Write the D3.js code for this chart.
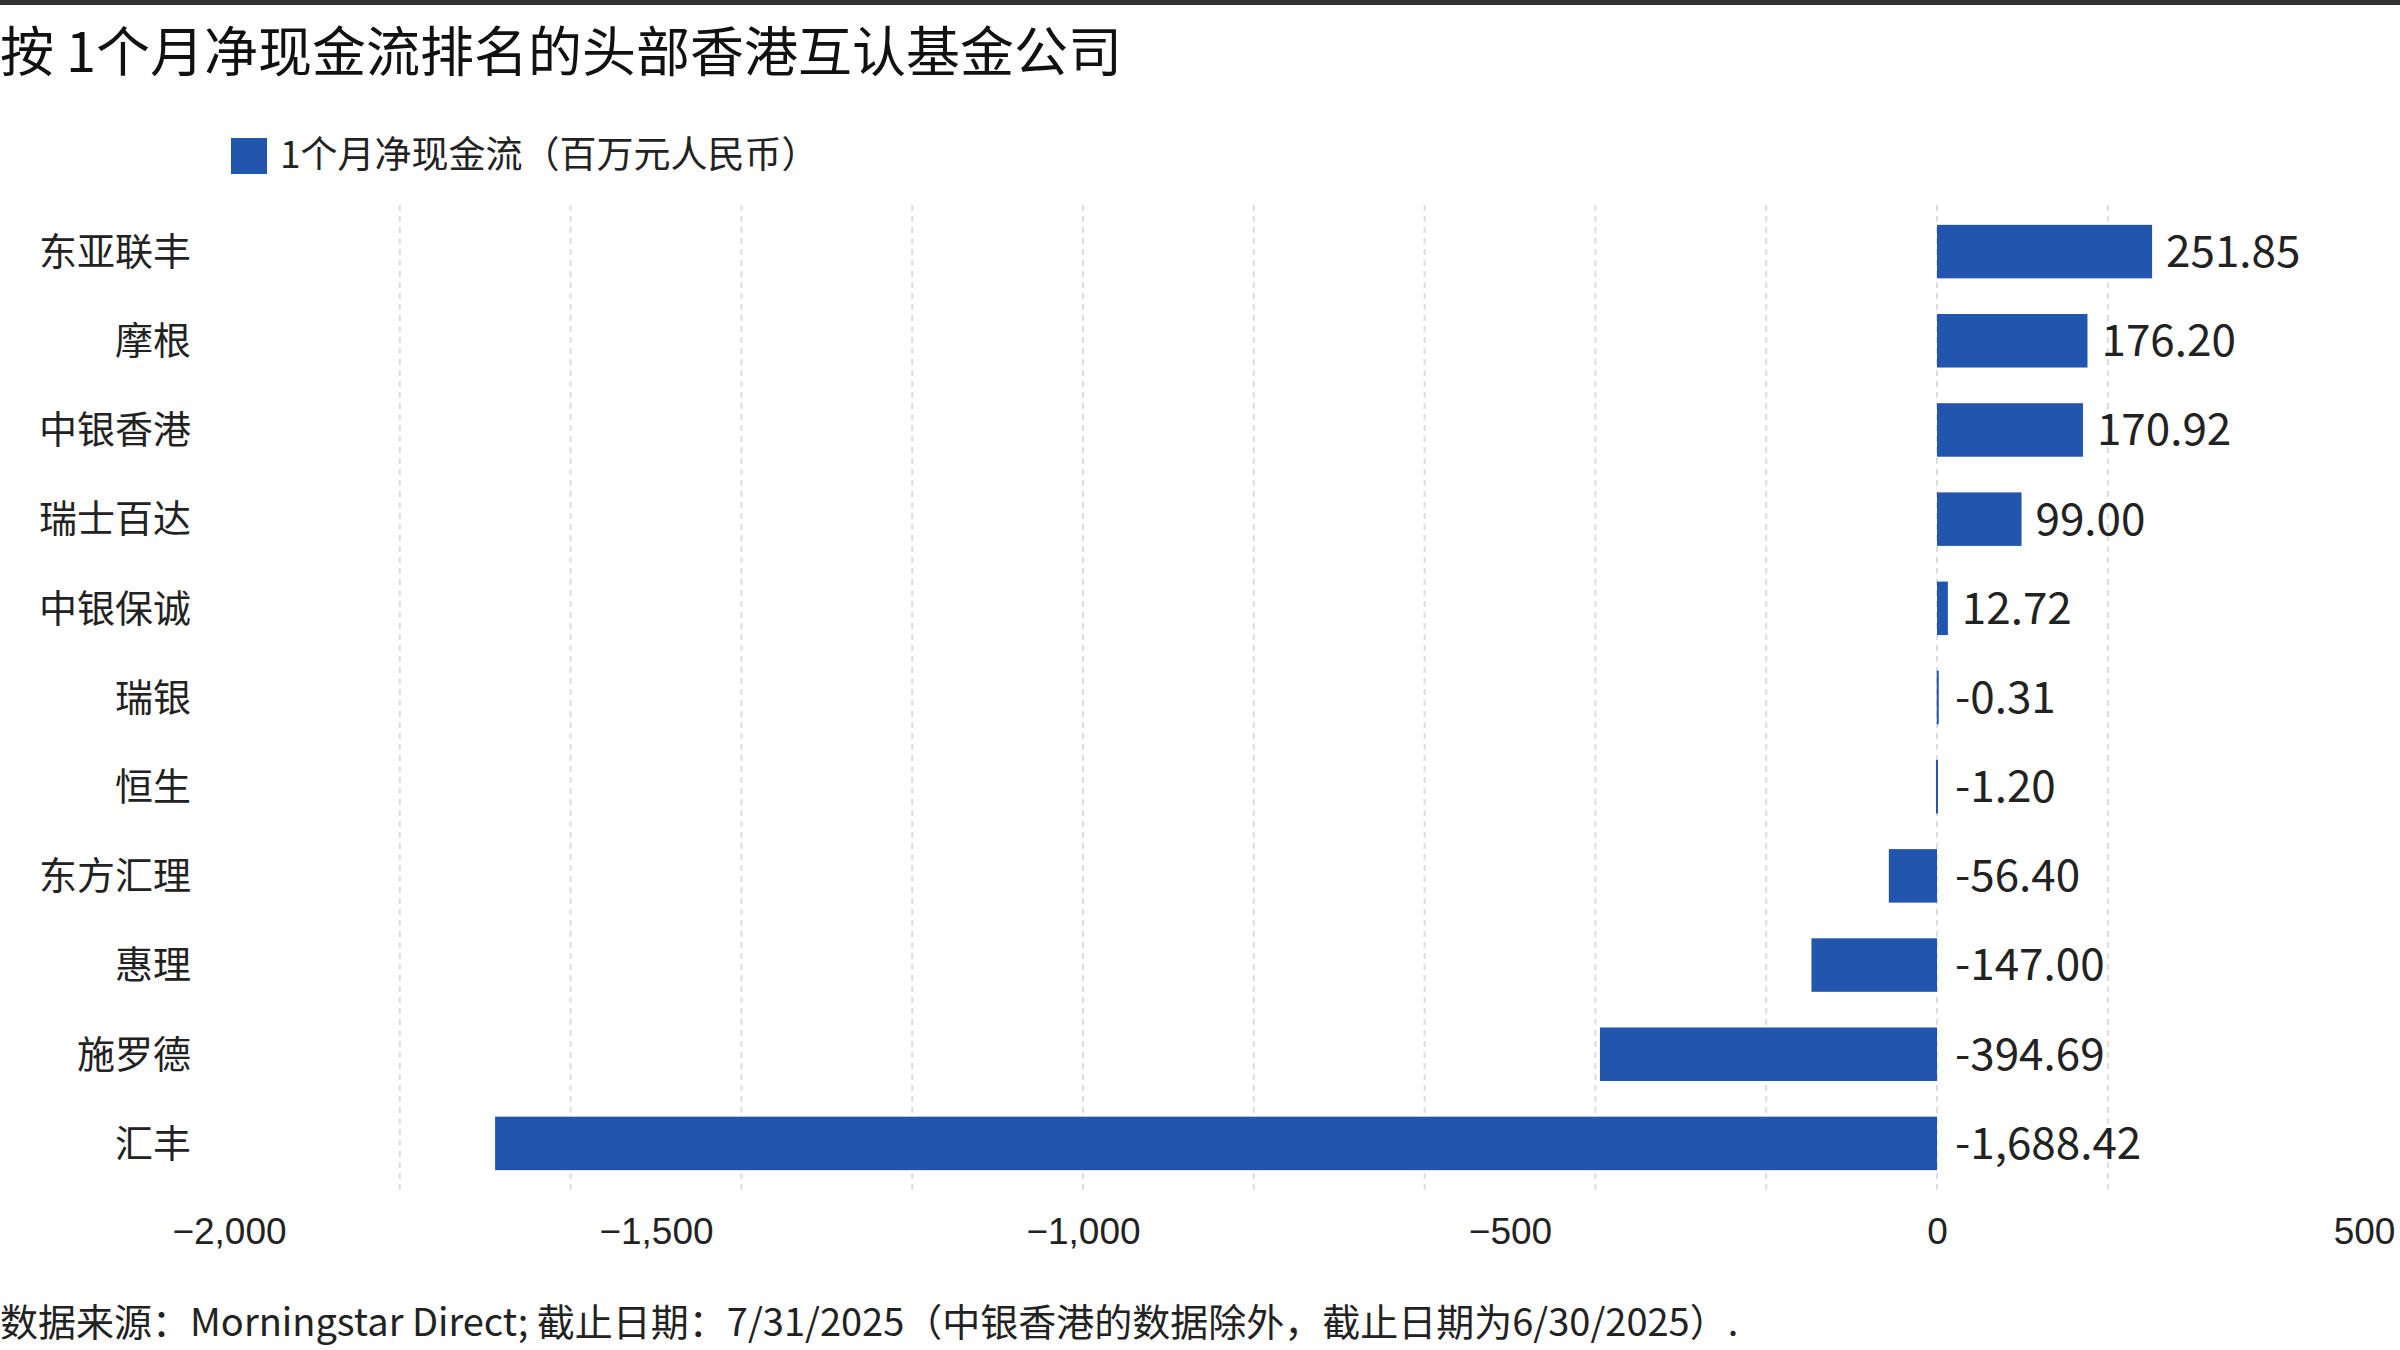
<!DOCTYPE html>
<html><head><meta charset="utf-8">
<script src="https://cdn.jsdelivr.net/npm/d3@7"></script>
<style>
body{margin:0;background:#fff;}
text{font-family:"Liberation Sans Narrow","Noto Sans CJK SC",sans-serif;}
</style></head>
<body><svg id="c" width="2400" height="1350"></svg>
<script>
const companies = ['东亚联丰','摩根','中银香港','瑞士百达','中银保诚','瑞银','恒生','东方汇理','惠理','施罗德','汇丰'];
const flows = [251.85,176.20,170.92,99.00,12.72,-0.31,-1.20,-56.40,-147.00,-394.69,-1688.42];
const tickValues = [-2000,-1500,-1000,-500,0,500];
const gridValues = [-1800,-1600,-1400,-1200,-1000,-800,-600,-400,-200,0,200];

const svg = d3.select('#c');
const cjk = '"Noto Sans CJK SC",sans-serif';
const blue = '#2155ae';

// top rule
svg.append('rect').attr('x',0).attr('y',0).attr('width',2400).attr('height',5).attr('fill','#333');

svg.append('text').attr('x',0).attr('y',72).text('按 1个月净现金流排名的头部香港互认基金公司')
  .style('font-family',cjk).style('font-size','54px').attr('fill','#111');

// legend
svg.append('rect').attr('x',231).attr('y',138).attr('width',36).attr('height',36).attr('fill',blue);
svg.append('text').attr('x',280).attr('y',168).text('1个月净现金流（百万元人民币）')
  .style('font-family',cjk).style('font-size','37px').attr('fill','#222');

const x = d3.scaleLinear().domain([-2000,500]).range([229,2364]);
const y = d3.scaleBand().domain(companies).range([207,1188]).paddingInner(0.4).paddingOuter(0.2);

// grid
svg.append('g').selectAll('line').data(gridValues).join('line')
  .attr('x1',d=>x(d)).attr('x2',d=>x(d)).attr('y1',205).attr('y2',1190)
  .attr('stroke','#ddd').attr('stroke-width',2).attr('stroke-dasharray','6,5');

// bars
svg.append('g').selectAll('rect').data(flows).join('rect')
  .attr('x',d=>x(Math.min(0,d))).attr('y',(d,i)=>y(companies[i]))
  .attr('width',d=>Math.max(2,Math.abs(x(d)-x(0)))).attr('height',y.bandwidth())
  .attr('fill',blue);

const fmt = d3.format(',.2f');
svg.append('g').selectAll('text').data(flows).join('text')
  .attr('x',d=>d>=0 ? x(d)+14 : x(0)+18)
  .attr('y',(d,i)=>y(companies[i])+y.bandwidth()/2)
  .attr('dy','0.35em').text(d=>fmt(d).replace('−','-'))
  .style('font-size','44px').attr('fill','#222');

// category labels
svg.append('g').selectAll('text').data(companies).join('text')
  .attr('x',191).attr('y',d=>y(d)+y.bandwidth()/2).attr('dy','0.35em')
  .attr('text-anchor','end').text(d=>d)
  .style('font-family',cjk).style('font-size','38px').attr('fill','#222');

// axis
const axis = svg.append('g').attr('transform','translate(0,1200)')
  .call(d3.axisBottom(x).tickValues(tickValues).tickFormat(d3.format(',')).tickSize(0).tickPadding(18));
axis.select('.domain').remove();
axis.selectAll('text').style('font-size','37px').attr('fill','#222')
  .style('font-family','"Liberation Sans Narrow",sans-serif');

svg.append('text').attr('x',0).attr('y',1336)
  .text('数据来源：Morningstar Direct; 截止日期：7/31/2025（中银香港的数据除外，截止日期为6/30/2025）.')
  .style('font-size','38px').attr('fill','#222');
</script></body></html>
